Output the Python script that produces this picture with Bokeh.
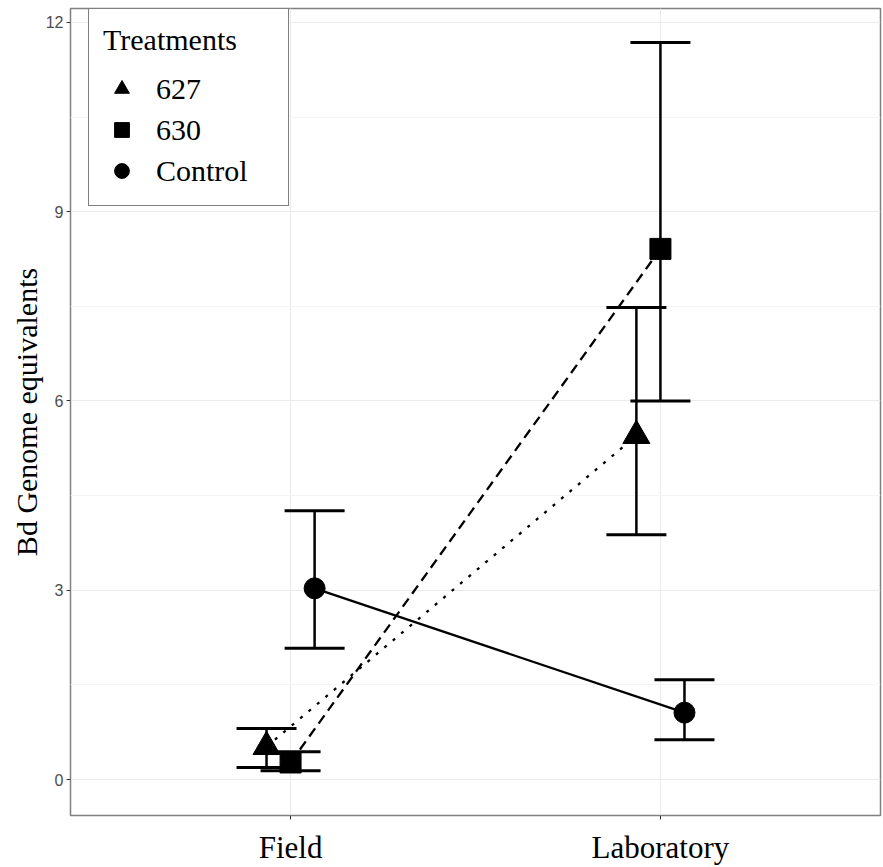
from bokeh.plotting import figure
from bokeh.models import (ColumnDataSource, FactorRange, Range1d, Whisker, TeeHead,
                          Legend, LegendItem, FixedTicker)
from bokeh.transform import dodge
from bokeh.embed import file_html
from bokeh.resources import INLINE

# ---- data ----
categories = ["Field", "Laboratory"]
treatments = ["627", "630", "Control"]
mean_627 = [0.52, 5.45]
lower_627 = [0.19, 3.88]
upper_627 = [0.81, 7.48]
mean_630 = [0.27, 8.41]
lower_630 = [0.14, 6.00]
upper_630 = [0.44, 11.68]
mean_ctrl = [3.03, 1.06]
lower_ctrl = [2.08, 0.63]
upper_ctrl = [4.26, 1.58]
y_ticks = [0, 3, 6, 9, 12]
y_minor = [1.5, 4.5, 7.5, 10.5]

SERIF = "Liberation Serif"
SANS = "Liberation Sans"

p = figure(width=883, height=867, output_backend="svg", toolbar_location=None,
           x_range=FactorRange(factors=categories, range_padding=0.095,
                               range_padding_units="absolute"),
           y_range=Range1d(-0.57, 12.22),
           min_border_left=70, min_border_right=3, min_border_top=8,
           min_border_bottom=52)
p.background_fill_color = "white"
p.border_fill_color = "white"
p.outline_line_color = "#808080"
p.outline_line_width = 1.5

series = [
    ("627", mean_627, lower_627, upper_627, -0.065, "triangle", 27, "3 8"),
    ("630", mean_630, lower_630, upper_630, 0.0, "square", 21, "10 6"),
    ("Control", mean_ctrl, lower_ctrl, upper_ctrl, 0.065, "circle", 21, "solid"),
]

marker_renderers = {}
for name, mean, lo, hi, off, marker, size, dash in series:
    src = ColumnDataSource(dict(x=categories, y=mean, lower=lo, upper=hi))
    xd = dodge("x", off, range=p.x_range)
    p.line(x=xd, y="y", source=src, line_color="black", line_width=2.3,
           line_dash=dash)
    w = Whisker(base=xd, upper="upper", lower="lower", source=src,
                line_color="black", line_width=2.5,
                upper_head=TeeHead(size=60, line_color="black", line_width=3),
                lower_head=TeeHead(size=60, line_color="black", line_width=3))
    p.add_layout(w)
    r = p.scatter(x=xd, y="y", source=src, marker=marker, size=size,
                  fill_color="black", line_color="black")
    marker_renderers[name] = r

legend = Legend(items=[LegendItem(label=t, renderers=[marker_renderers[t]])
                       for t in treatments],
                location=(18, 609), title="Treatments")
legend.title_text_font = SERIF
legend.title_text_font_size = "30px"
legend.title_text_font_style = "normal"
legend.title_text_color = "black"
legend.title_standoff = 11
legend.label_text_font = SERIF
legend.label_text_font_size = "30px"
legend.label_text_color = "black"
legend.glyph_width = 37
legend.glyph_height = 41
legend.label_height = 41
legend.label_width = 118
legend.spacing = 0
legend.padding = 14
legend.label_standoff = 16
legend.border_line_color = "black"
legend.border_line_width = 1.2
legend.background_fill_color = "white"
legend.background_fill_alpha = 1.0
p.add_layout(legend, "center")

# axes
p.yaxis.ticker = FixedTicker(ticks=y_ticks, minor_ticks=y_minor)
p.yaxis.axis_label = "Bd Genome equivalents"
p.yaxis.axis_label_text_font = SERIF
p.yaxis.axis_label_text_font_size = "30px"
p.yaxis.axis_label_text_font_style = "normal"
p.yaxis.axis_label_text_color = "black"
p.yaxis.axis_label_standoff = 0
p.yaxis.major_label_text_font = SANS
p.yaxis.major_label_text_font_size = "16px"
p.yaxis.major_label_text_color = "#4D4D4D"
p.yaxis.major_label_standoff = 3

p.xaxis.major_label_text_font = SERIF
p.xaxis.major_label_text_font_size = "31px"
p.xaxis.major_label_text_color = "black"
p.xaxis.major_label_standoff = 10

for ax in (p.xaxis, p.yaxis):
    ax.axis_line_color = None
    ax.major_tick_line_color = "#333333"
    ax.major_tick_out = 4
    ax.major_tick_in = 0
    ax.minor_tick_line_color = None

p.ygrid.grid_line_color = "#EBEBEB"
p.ygrid.grid_line_width = 1.2
p.ygrid.minor_grid_line_color = "#F4F4F4"
p.ygrid.minor_grid_line_width = 1
p.xgrid.grid_line_color = "#EBEBEB"
p.xgrid.grid_line_width = 1.2

open("out.html", "w").write(file_html(p, INLINE))
